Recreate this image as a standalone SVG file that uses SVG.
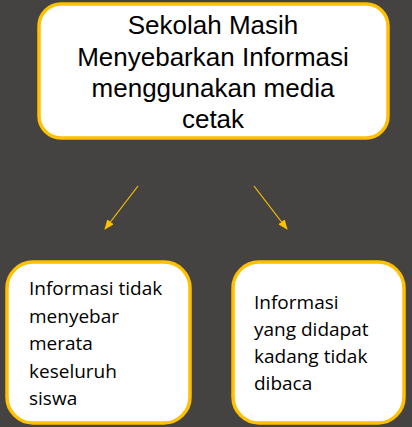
<svg xmlns="http://www.w3.org/2000/svg" width="412" height="427" viewBox="0 0 412 427">
<style>
.box{fill:#fff;stroke:#FFC000;stroke-width:3.5}
.t1{font-family:"Liberation Sans",Arial,sans-serif;font-size:26px;fill:#000;text-anchor:middle}
.t2{font-family:"Open Sans","Noto Sans",sans-serif;font-size:19px;fill:#000}
.c{stroke:#FFC000;stroke-width:1.2;fill:none}
</style>
<defs>
<marker id="ah" markerWidth="10" markerHeight="8" refX="9" refY="4" orient="auto" markerUnits="userSpaceOnUse">
<path d="M0,0 L10,4 L0,8 Z" fill="#FFC000"/>
</marker>
</defs>
<rect width="412" height="427" fill="#454341"/>
<g id="top">
<rect class="box" x="39" y="4" width="349" height="134" rx="22"/>
<text class="t1" x="213" y="34">Sekolah Masih</text>
<text class="t1" x="213" y="66">Menyebarkan Informasi</text>
<text class="t1" x="213" y="97">menggunakan media</text>
<text class="t1" x="213" y="128">cetak</text>
</g>
<g id="left">
<rect class="box" x="7" y="262" width="183" height="161" rx="26"/>
<text class="t2" x="29" y="295">Informasi tidak</text>
<text class="t2" x="29" y="323">menyebar</text>
<text class="t2" x="29" y="350">merata</text>
<text class="t2" x="29" y="378">keseluruh</text>
<text class="t2" x="29" y="405">siswa</text>
</g>
<g id="right">
<rect class="box" x="233" y="262" width="171" height="161" rx="26"/>
<text class="t2" x="254" y="309">Informasi</text>
<text class="t2" x="254" y="336">yang didapat</text>
<text class="t2" x="254" y="363">kadang tidak</text>
<text class="t2" x="254" y="390">dibaca</text>
</g>
<g id="connectors">
<line class="c" x1="138" y1="186" x2="105" y2="229" marker-end="url(#ah)"/>
<line class="c" x1="254" y1="186" x2="287" y2="229" marker-end="url(#ah)"/>
</g>
</svg>
